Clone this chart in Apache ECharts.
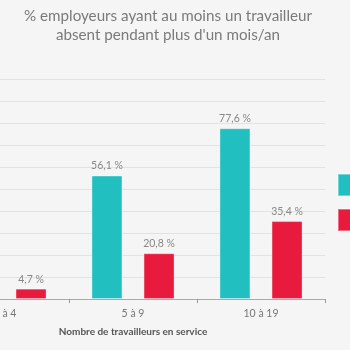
<!DOCTYPE html>
<html>
<head>
<meta charset="utf-8">
<script src="https://cdn.jsdelivr.net/npm/echarts@6/dist/echarts.min.js"></script>
<style>
  html, body { margin: 0; padding: 0; background: #f5f5f5; }
  #chart { width: 350px; height: 350px; }
</style>
</head>
<body>
<div id="chart"></div>
<script>
// Taille de l'entreprise (nombre de travailleurs)
const categories = ['1 à 4', '5 à 9', '10 à 19'];
// Part des employeurs (%) par série
const seriesNames = ['Série A', 'Série B'];
const valuesA = [null, 56.1, 77.6];
const valuesB = [4.7, 20.8, 35.4];
const colors = ['#22bfc1', '#e81a3d'];

const fmt = v => v.toFixed(1).replace('.', ',') + ' %';

const chart = echarts.init(document.getElementById('chart'));
chart.setOption({
  backgroundColor: '#f5f5f5',
  animation: false,
  title: {
    text: '% employeurs ayant au moins un travailleur\nabsent pendant plus d\'un mois/an',
    left: 168,
    textAlign: 'center',
    top: 7,
    padding: 0,
    textStyle: {
      fontFamily: 'Lato',
      fontWeight: 'normal',
      fontSize: 15.2,
      lineHeight: 18.5,
      color: '#7a7a7a'
    }
  },
  legend: {
    orient: 'vertical',
    left: 337,
    top: 173,
    padding: 0,
    itemWidth: 22,
    itemHeight: 22,
    itemGap: 11,
    icon: 'rect',
    data: seriesNames,
    textStyle: { color: '#777', fontSize: 11 }
  },
  grid: {
    left: -59,
    right: 25,
    top: 79,
    bottom: 51,
    outerBoundsMode: 'none'
  },
  xAxis: {
    type: 'category',
    data: categories,
    name: 'Nombre de travailleurs en service',
    nameLocation: 'middle',
    nameGap: 28,
    nameTextStyle: { fontFamily: 'Lato', fontWeight: 'bold', fontSize: 10, color: '#555' },
    axisLine: { lineStyle: { color: '#aaa', width: 1 } },
    axisTick: { show: true, length: 4, lineStyle: { color: '#999' } },
    axisLabel: { fontFamily: 'Lato', fontSize: 10.5, color: '#777', margin: 9 }
  },
  yAxis: {
    type: 'value',
    min: 0,
    max: 100,
    interval: 10,
    axisLabel: { show: false },
    axisLine: { show: false },
    axisTick: { show: false },
    splitLine: { lineStyle: { color: '#e2e2e2', width: 1 } }
  },
  series: [valuesA, valuesB].map((vals, i) => ({
    name: seriesNames[i],
    type: 'bar',
    data: vals,
    barWidth: 31,
    barGap: '68%',
    itemStyle: { color: colors[i], borderColor: 'rgba(255,255,255,0.35)', borderWidth: 1 },
    label: {
      show: true,
      position: 'top',
      distance: 4,
      fontFamily: 'Lato',
      fontSize: 10.5,
      color: '#888',
      formatter: p => fmt(p.value)
    }
  }))
});
</script>
</body>
</html>
